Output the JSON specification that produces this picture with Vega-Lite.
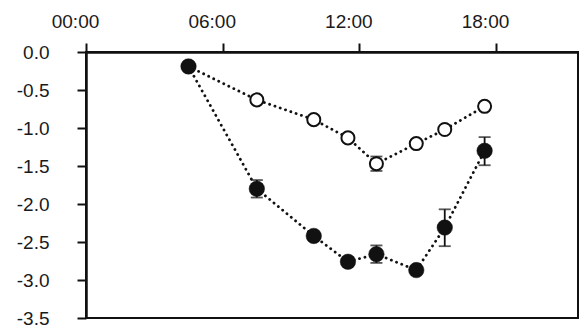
{
  "$schema": "https://vega.github.io/schema/vega-lite/v6.json",
  "autosize": "none",
  "width": 492,
  "height": 266,
  "padding": {"left": 86, "top": 52, "right": 8, "bottom": 10},
  "background": "white",
  "config": {
    "view": {"stroke": "#111", "strokeWidth": 2},
    "axis": {
      "domainColor": "#111",
      "domainWidth": 2.5,
      "tickColor": "#111",
      "tickWidth": 2,
      "tickSize": 9,
      "grid": false,
      "title": null
    }
  },
  "data": {
    "values": [
      {"series": "filled", "hour": 4.5, "value": -0.19, "lo": -0.23, "hi": -0.15},
      {"series": "filled", "hour": 7.5, "value": -1.80, "lo": -1.915, "hi": -1.685},
      {"series": "filled", "hour": 10.0, "value": -2.42, "lo": -2.47, "hi": -2.37},
      {"series": "filled", "hour": 11.5, "value": -2.76, "lo": -2.81, "hi": -2.71},
      {"series": "filled", "hour": 12.75, "value": -2.66, "lo": -2.775, "hi": -2.545},
      {"series": "filled", "hour": 14.5, "value": -2.87, "lo": -2.92, "hi": -2.82},
      {"series": "filled", "hour": 15.75, "value": -2.31, "lo": -2.555, "hi": -2.07},
      {"series": "filled", "hour": 17.5, "value": -1.30, "lo": -1.49, "hi": -1.12},
      {"series": "open", "hour": 4.5, "value": -0.19, "lo": -0.22, "hi": -0.16},
      {"series": "open", "hour": 7.5, "value": -0.63, "lo": -0.67, "hi": -0.59},
      {"series": "open", "hour": 10.0, "value": -0.89, "lo": -0.93, "hi": -0.85},
      {"series": "open", "hour": 11.5, "value": -1.13, "lo": -1.17, "hi": -1.09},
      {"series": "open", "hour": 12.75, "value": -1.47, "lo": -1.565, "hi": -1.375},
      {"series": "open", "hour": 14.5, "value": -1.205, "lo": -1.245, "hi": -1.165},
      {"series": "open", "hour": 15.75, "value": -1.02, "lo": -1.06, "hi": -0.98},
      {"series": "open", "hour": 17.5, "value": -0.715, "lo": -0.755, "hi": -0.675}
    ]
  },
  "encoding": {
    "x": {
      "field": "hour",
      "type": "quantitative",
      "scale": {"domain": [0, 21.6], "nice": false, "zero": false},
      "axis": {
        "orient": "top",
        "values": [0, 6, 12, 18],
        "labelExpr": "(datum.value < 10 ? '0' : '') + datum.value + ':00'",
        "labelFont": "Liberation Sans",
        "labelFontSize": 19,
        "labelColor": "#1a1a1a",
        "labelPadding": 12,
        "labelOffset": -11,
        "labelFlush": false,
        "labelOverlap": false
      }
    },
    "y": {
      "field": "value",
      "type": "quantitative",
      "scale": {"domain": [-3.5, 0], "nice": false, "zero": false},
      "axis": {
        "values": [0, -0.5, -1, -1.5, -2, -2.5, -3, -3.5],
        "labelExpr": "replace(format(datum.value, '.1f'), '\u2212', '-')",
        "labelFont": "Liberation Sans",
        "labelFontSize": 19,
        "labelColor": "#1a1a1a",
        "labelPadding": 28,
        "labelFlush": false,
        "labelOverlap": false
      }
    }
  },
  "layer": [
    {
      "mark": {"type": "line", "color": "#111", "strokeWidth": 2.8, "strokeDash": [0.1, 5.5], "strokeCap": "round"},
      "encoding": {"detail": {"field": "series"}}
    },
    {
      "mark": {"type": "rule", "color": "#111", "strokeWidth": 1.8},
      "encoding": {"y": {"field": "lo", "type": "quantitative"}, "y2": {"field": "hi"}}
    },
    {
      "mark": {"type": "tick", "orient": "horizontal", "color": "#111", "size": 12, "thickness": 1.8},
      "encoding": {"y": {"field": "lo", "type": "quantitative"}}
    },
    {
      "mark": {"type": "tick", "orient": "horizontal", "color": "#111", "size": 12, "thickness": 1.8},
      "encoding": {"y": {"field": "hi", "type": "quantitative"}}
    },
    {
      "transform": [{"filter": "datum.series == 'open'"}],
      "mark": {"type": "point", "shape": "circle", "filled": true, "fill": "white", "stroke": "#111", "strokeWidth": 2, "size": 170, "opacity": 1}
    },
    {
      "transform": [{"filter": "datum.series == 'filled'"}],
      "mark": {"type": "point", "shape": "circle", "filled": true, "fill": "#111", "stroke": "#111", "strokeWidth": 0.5, "size": 240, "opacity": 1}
    }
  ]
}
